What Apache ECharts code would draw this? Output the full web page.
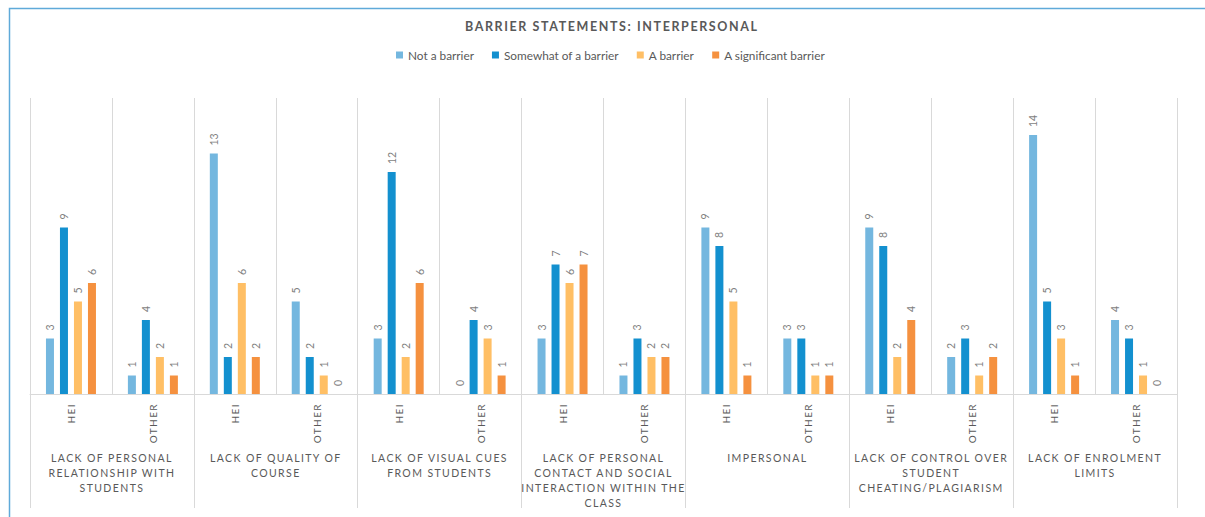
<!DOCTYPE html>
<html>
<head>
<meta charset="utf-8">
<script src="https://cdn.jsdelivr.net/npm/echarts@6/dist/echarts.min.js"></script>
<style>
html,body{margin:0;padding:0;background:#fff;}
#chart{width:1205px;height:517px;}
</style>
</head>
<body>
<div id="chart"></div>
<script>
const chartTitle = 'BARRIER STATEMENTS: INTERPERSONAL';
const groups = [
  'LACK OF PERSONAL\nRELATIONSHIP WITH\nSTUDENTS',
  'LACK OF QUALITY OF\nCOURSE',
  'LACK OF VISUAL CUES\nFROM STUDENTS',
  'LACK OF PERSONAL\nCONTACT AND SOCIAL\nINTERACTION WITHIN THE\nCLASS',
  'IMPERSONAL',
  'LACK OF CONTROL OVER\nSTUDENT\nCHEATING/PLAGIARISM',
  'LACK OF ENROLMENT\nLIMITS'
];
const subCategories = ['HEI','OTHER','HEI','OTHER','HEI','OTHER','HEI','OTHER','HEI','OTHER','HEI','OTHER','HEI','OTHER'];
const seriesNames = ['Not a barrier','Somewhat of a barrier','A barrier','A significant barrier'];
const notABarrier        = [3, 1, 13, 5, 3, 0, 3, 1, 9, 3, 9, 2, 14, 4];
const somewhatOfABarrier = [9, 4, 2, 2, 12, 4, 7, 3, 8, 3, 8, 3, 5, 3];
const aBarrier           = [5, 2, 6, 1, 2, 3, 6, 2, 5, 1, 2, 1, 3, 1];
const aSignificantBarrier= [6, 1, 2, 0, 6, 1, 7, 2, 1, 1, 4, 2, 1, 0];
const seriesValues = [notABarrier, somewhatOfABarrier, aBarrier, aSignificantBarrier];
const colors = ['#74B7DF','#1390CF','#FFBF65','#F5913F'];

const FONT = 'Lato, "Open Sans", sans-serif';
const chart = echarts.init(document.getElementById('chart'), null, {renderer:'svg'});

const option = {
  animation:false,
  color: colors,
  textStyle:{fontFamily:FONT},
  title:{
    text: chartTitle, left:460, top:15,
    textStyle:{fontSize:12.5, fontWeight:'bold', color:'#595959', fontFamily:FONT}
  },
  legend:{
    top:49, left:396, padding:0, icon:'rect', itemWidth:7, itemHeight:7, itemGap:18,
    textStyle:{fontSize:11.8, color:'#595959', fontFamily:FONT},
    data: seriesNames
  },
  graphic:[{
    type:'rect', left:7, top:6, silent:true,
    shape:{x:0,y:0,width:1220,height:540},
    style:{fill:'none', stroke:'#5FAAD9', lineWidth:1.5}
  }],
  grid:{left:30, right:28, top:98, bottom:123, containLabel:false},
  xAxis:[{
    type:'category', data: subCategories, position:'bottom',
    axisLine:{show:true, lineStyle:{color:'#D9D9D9', width:1}},
    axisTick:{show:false},
    splitLine:{show:true, lineStyle:{color:'#D9D9D9', width:1}},
    axisLabel:{rotate:90, margin:9, fontSize:10, color:'#595959', fontFamily:FONT, interval:0}
  },{
    type:'category', data: groups, position:'bottom',
    axisLine:{show:false},
    axisTick:{show:true, length:114, interval:0, lineStyle:{color:'#D9D9D9', width:1}},
    axisLabel:{margin:56, fontSize:10.5, lineHeight:15, color:'#595959', fontFamily:FONT, interval:0, verticalAlign:'top'}
  }],
  yAxis:{type:'value', min:0, max:16, show:false, splitLine:{show:false}},
  series: seriesNames.map((name,i)=>({
    name, type:'bar', xAxisIndex:0, data: seriesValues[i],
    barWidth:8, barGap:'75%',
    itemStyle:{color:colors[i]},
    label:{show:true, position:'top', distance:8, rotate:90, align:'left', verticalAlign:'middle',
      fontSize:10.5, color:'#7F7F7F', fontFamily:FONT}
  }))
};
chart.setOption(option);

function spaceLetters(){
  document.querySelectorAll('#chart svg text').forEach(t=>{
    const s = (t.textContent||'').trim();
    if (/^[A-Z][A-Z :\/]*$/.test(s)) {
      t.setAttribute('letter-spacing', s.indexOf('BARRIER STATEMENTS')===0 ? '1.6' : '1.4');
    }
  });
}
spaceLetters();
chart.on('finished', spaceLetters);
setTimeout(spaceLetters, 50);
</script>
</body>
</html>
